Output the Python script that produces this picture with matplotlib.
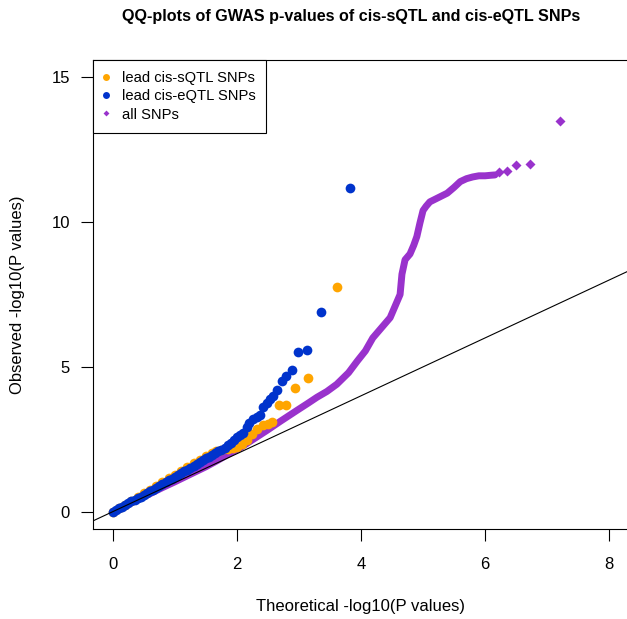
import matplotlib
matplotlib.use("Agg")
import matplotlib.pyplot as plt

plt.rcParams['font.family'] = ['Liberation Sans', 'DejaVu Sans']

# all SNPs (dense band) and its sparse tail
all_x = [0, 0.2, 0.4, 0.6, 0.8, 1.0, 1.24, 1.5, 1.68, 1.85, 2.05, 2.25, 2.48, 2.7,
         2.97, 3.15, 3.29, 3.45, 3.61, 3.8, 3.94, 4.07, 4.19, 4.33, 4.47, 4.55, 4.63,
         4.66, 4.71, 4.79, 4.85, 4.9, 4.95, 5.0, 5.05, 5.11, 5.25, 5.39, 5.5, 5.6,
         5.7, 5.8, 5.9, 6.0, 6.1, 6.16]
all_y = [0, 0.21, 0.41, 0.62, 0.83, 1.03, 1.28, 1.55, 1.76, 1.97, 2.2, 2.48, 2.8, 3.12,
         3.5, 3.75, 3.95, 4.15, 4.4, 4.8, 5.2, 5.55, 6.0, 6.35, 6.7, 7.1, 7.5,
         8.2, 8.7, 8.9, 9.2, 9.5, 9.97, 10.4, 10.55, 10.7, 10.85, 11.0, 11.2, 11.4,
         11.5, 11.56, 11.6, 11.6, 11.62, 11.63]
tail_x = [6.23, 6.35, 6.5, 6.73, 7.21]
tail_y = [11.73, 11.76, 11.97, 12.0, 13.5]

# lead cis-sQTL SNPs
sqtl_x = [0, 0.1, 0.2, 0.3, 0.4, 0.5, 0.6, 0.7, 0.8, 0.9, 1.0, 1.1, 1.2, 1.3, 1.4,
          1.5, 1.6, 1.67, 1.75, 1.85, 1.93, 2.0, 2.08, 2.16, 2.24, 2.32, 2.42, 2.5,
          2.56, 2.68, 2.79, 2.94, 3.15, 3.62]
sqtl_y = [0, 0.12, 0.24, 0.37, 0.5, 0.63, 0.76, 0.89, 1.02, 1.15, 1.28, 1.41, 1.54,
          1.67, 1.8, 1.93, 2.03, 2.1, 2.12, 2.16, 2.2, 2.22, 2.32, 2.46, 2.68, 2.86,
          2.98, 3.03, 3.09, 3.7, 3.7, 4.28, 4.63, 7.75]

# lead cis-eQTL SNPs
eqtl_x = [0, 0.05, 0.1, 0.15, 0.2, 0.25, 0.3, 0.35, 0.4, 0.45, 0.5, 0.55, 0.6, 0.65,
          0.7, 0.75, 0.8, 0.85, 0.9, 0.95, 1.0, 1.05, 1.1, 1.15, 1.2, 1.25, 1.3, 1.35,
          1.4, 1.45, 1.5, 1.55, 1.6, 1.65, 1.7, 1.75, 1.8, 1.85, 1.9, 1.95, 2.0, 2.05,
          2.1, 2.16, 2.2, 2.26, 2.32, 2.37, 2.42, 2.49, 2.53, 2.58, 2.65, 2.72, 2.79,
          2.88, 2.99, 3.13, 3.35, 3.83]
eqtl_y = [0, 0.05, 0.11, 0.17, 0.23, 0.29, 0.35, 0.41, 0.46, 0.52, 0.58, 0.64, 0.7,
          0.76, 0.82, 0.88, 0.95, 1.01, 1.08, 1.14, 1.2, 1.26, 1.33, 1.39, 1.45, 1.51,
          1.57, 1.65, 1.72, 1.78, 1.84, 1.9, 1.96, 2.02, 2.08, 2.14, 2.2, 2.29, 2.38,
          2.47, 2.57, 2.64, 2.72, 2.92, 3.05, 3.2, 3.28, 3.35, 3.62, 3.75, 3.9, 4.0,
          4.19, 4.5, 4.67, 4.9, 5.5, 5.57, 6.9, 11.19]

col_s = '#FFA500'
col_e = '#0033CC'
col_a = '#9932CC'

fig = plt.figure(figsize=(6.27, 6.19), dpi=100)
ax = fig.add_axes([93 / 627, 90 / 619, 536 / 627, 469 / 619])

# dense part of all SNPs drawn as a thick band, tail as single diamonds
ax.plot(all_x, all_y, color=col_a, lw=5, solid_capstyle='round',
        solid_joinstyle='round', zorder=1)
ax.plot(tail_x, tail_y, 'D', color=col_a, ms=4.8, mec='none', zorder=1)
ax.plot(sqtl_x, sqtl_y, 'o', color=col_s, ms=7, mec='none', zorder=2)
ax.plot(eqtl_x, eqtl_y, 'o', color=col_e, ms=7, mec='none', zorder=3)
ax.plot([-1, 10], [-1, 10], color='black', lw=0.8, zorder=4)

ax.set_xlim(-0.32, 8.32)
ax.set_ylim(-0.6, 15.6)
ax.set_xticks([0, 2, 4, 6, 8])
ax.set_yticks([0, 5, 10, 15])
ax.tick_params(axis='both', direction='out', length=8.3, width=0.8, labelsize=12)
ax.tick_params(axis='x', pad=12)
ax.tick_params(axis='y', pad=8.4)
for s in ax.spines.values():
    s.set_linewidth(0.8)

fig.text(351 / 627, 1 - 16 / 619, 'QQ-plots of GWAS p-values of cis-sQTL and cis-eQTL SNPs',
         ha='center', va='center', fontsize=11.6, fontweight='bold')
fig.text(361 / 627, 1 - 607 / 619, 'Theoretical -log10(P values)',
         ha='center', va='center', fontsize=12)
fig.text(18 / 627, 1 - 295 / 619, 'Observed -log10(P values)',
         ha='center', va='center', fontsize=12, rotation=90)

h1, = ax.plot([], [], 'o', color=col_s, ms=5, mec='none')
h2, = ax.plot([], [], 'o', color=col_e, ms=5, mec='none')
h3, = ax.plot([], [], 'D', color=col_a, ms=3, mec='none')
leg = ax.legend([h1, h2, h3], ['lead cis-sQTL SNPs', 'lead cis-eQTL SNPs', 'all SNPs'],
                loc='upper left', borderaxespad=0, fancybox=False, framealpha=1,
                edgecolor='black', fontsize=10.6, handlelength=0.33, handletextpad=0.86,
                labelspacing=0.29, borderpad=0.75, markerscale=1)
leg.get_frame().set_linewidth(0.8)

fig.savefig('out.png', dpi=100)
